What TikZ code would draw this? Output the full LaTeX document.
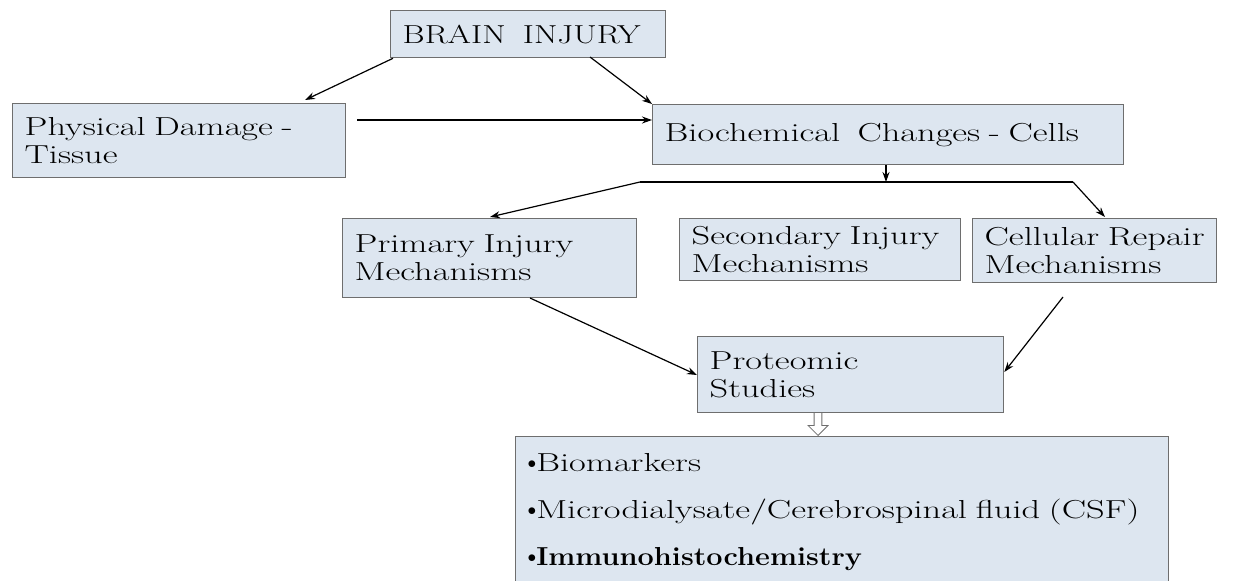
\documentclass[tikz,border=0pt]{standalone}
\usepackage{fontspec}
\setmainfont{Latin Modern Roman}[FakeStretch=1.4]
\newfontfamily\narrowbold{Latin Modern Roman}[FakeStretch=1.11]
\newfontfamily\capsfont{Latin Modern Roman}[FakeStretch=1.3]
\usetikzlibrary{arrows.meta,shapes.arrows}
\definecolor{boxfill}{HTML}{DDE6F0}
\definecolor{boxline}{HTML}{6E6E6E}
\newcommand{\bul}{\raisebox{2.5pt}{\fontsize{18}{18}\selectfont$\bullet$}}
\begin{document}
\begin{tikzpicture}[x=1pt,y=-1pt,
  box/.style={draw=boxline,fill=boxfill,line width=1.3pt,anchor=north west,
    inner xsep=12pt,inner ysep=0pt,align=left,font=\fontsize{26}{28}\selectfont},
  conn/.style={line width=1.2pt,-{Stealth[length=10pt,width=7pt]}},
  plain/.style={line width=1.2pt}]
\useasboundingbox (0,0) rectangle (1237,581);
\node[box,minimum width=275pt,minimum height=47pt,text width=251pt] (bi) at (390,10) {\capsfont\mbox{BRAIN\ \ INJURY}};
\node[box,minimum width=333pt,minimum height=74pt,text width=309pt] (pd) at (12,103) {Physical Damage -\\Tissue};
\node[box,minimum width=471pt,minimum height=60pt,text width=447pt] (bc) at (652,104) {Biochemical\ \ Changes - Cells};
\node[box,minimum width=294pt,minimum height=79pt,text width=270pt] (pi) at (342,218) {Primary Injury\\Mechanisms};
\node[box,minimum width=281pt,minimum height=62pt,text width=257pt] (si) at (679,218) {\mbox{Secondary Injury}\\Mechanisms};
\node[box,minimum width=244pt,minimum height=64pt,text width=220pt] (cr) at (972,218) {\mbox{Cellular Repair}\\Mechanisms};
\node[box,minimum width=306pt,minimum height=76pt,text width=282pt] (ps) at (697,336) {Proteomic\\Studies};
\node[box,minimum width=653pt,minimum height=150pt,text width=629pt,
  font=\fontsize{26}{47}\selectfont] (bm) at (515,436)
  {\bul Biomarkers\\\bul Microdialysate/Cerebrospinal fluid (CSF)\\\bul{\narrowbold\bfseries Immunohistochemistry}};
% connectors
\coordinate (j) at (886,182);
\coordinate (jl) at (640,182);
\coordinate (jr) at (1073,182);
\draw[conn] (bi.south west) ++(3,0) -- (305,100);
\draw[conn] (590,57) -- (bc.north west);
\draw[conn] (357,120) -- (bc.west |- 0,120);
\draw[conn] (bc.south -| j) -- (j);
\draw[plain] (jl) -- (jr);
\draw[conn] (jl) -- (490,217);
\draw[conn] (jr) -- (1105,217);
\draw[conn] (530,298) -- (ps.west |- 0,375);
\draw[conn] (1063,297) -- (ps.east |- 0,372);
\node[single arrow,draw=boxline,fill=white,line width=0.8pt,shape border rotate=270,
  minimum height=23pt,minimum width=20pt,single arrow head extend=3pt,inner sep=1.5pt,anchor=tip] (ha) at (818,436) {};
\end{tikzpicture}
\end{document}
